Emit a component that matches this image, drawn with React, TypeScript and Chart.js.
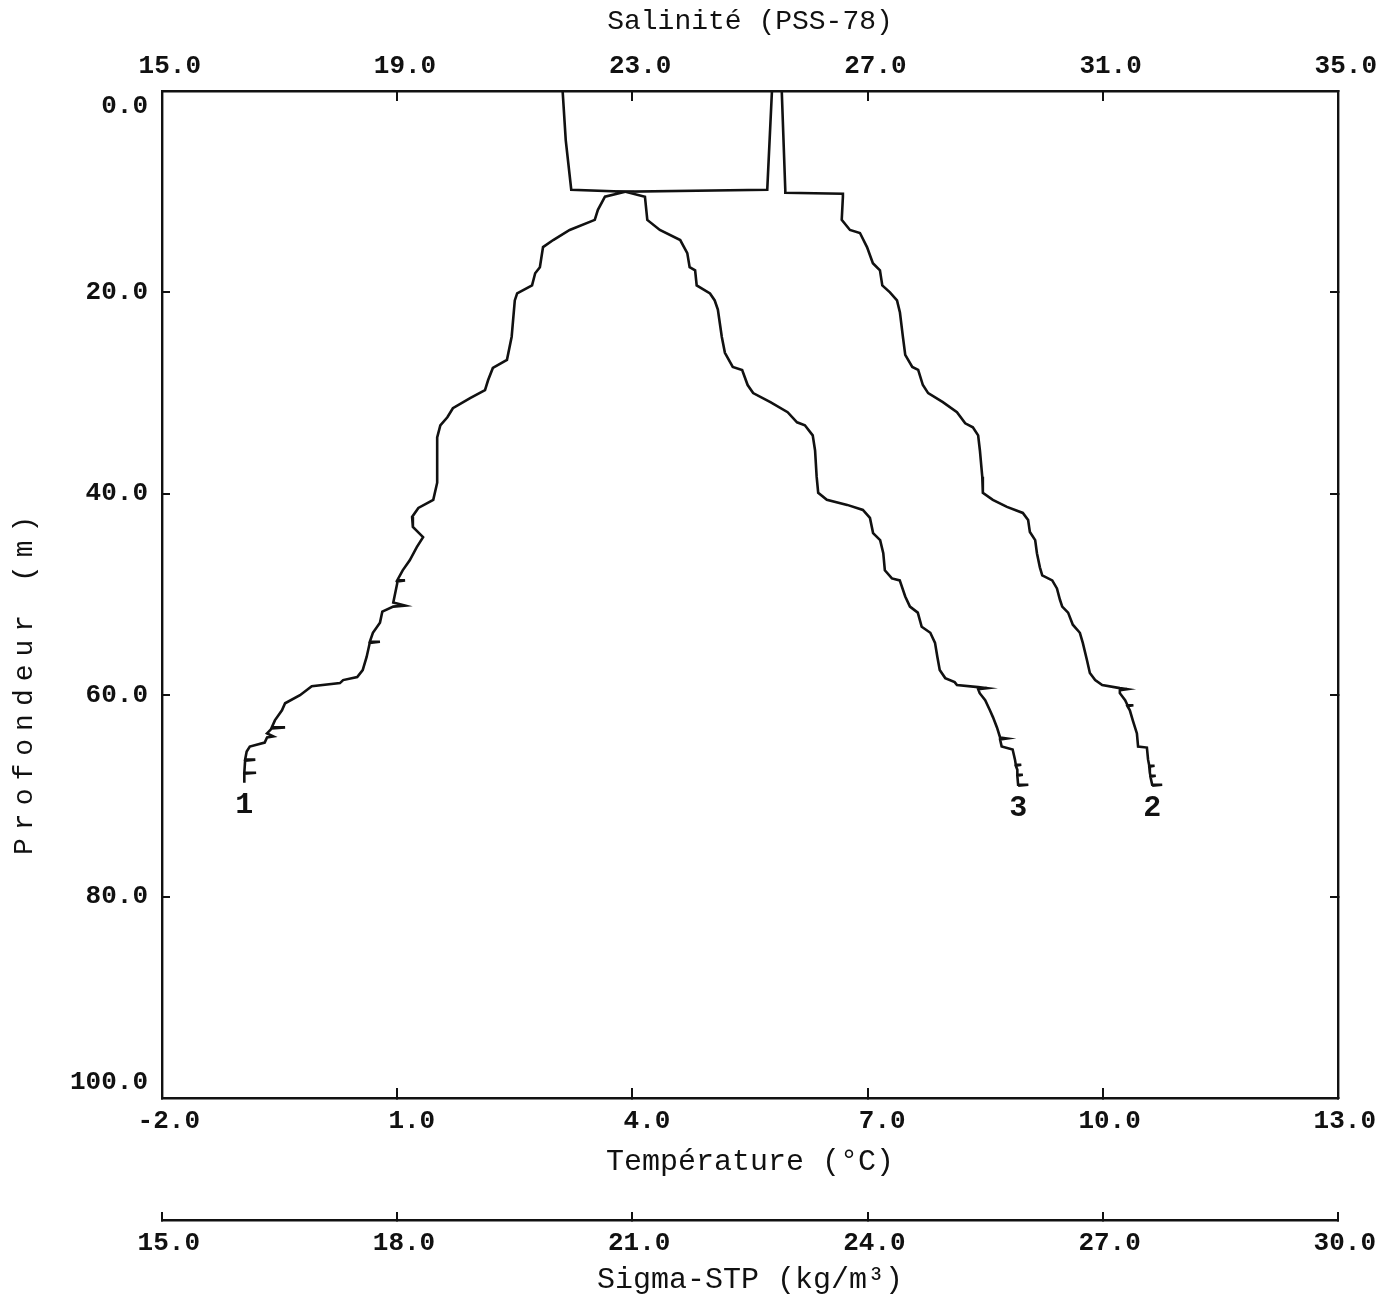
import React, { useEffect, useRef } from 'react';
import { Chart, registerables } from 'chart.js';

Chart.register(...registerables);

// ---- axis tick values ----
const depthTicks = [0, 20, 40, 60, 80, 100];
const tempTicks = [-2, 1, 4, 7, 10, 13];
const salTicks = [15, 19, 23, 27, 31, 35];
const sigmaTicks = [15, 18, 21, 24, 27, 30];

// ---- curve 1 : Température (°C) ----
const tempDepth = [0, 4.9, 9.8, 10.0, 10.5, 11.8, 12.8, 13.8, 14.8, 15.5, 17.5, 18.1, 19.3, 20.1, 20.8, 24.4, 26.7, 27.5, 28.7, 29.7, 30.5, 31.5, 32.4, 33.2, 34.4, 38.9, 40.6, 41.4, 42.3, 43.3, 44.3, 45.3, 46.6, 47.6, 48.6, 48.6, 48.7, 48.9, 50.8, 51.1, 51.2, 51.7, 52.8, 53.8, 54.7, 54.7, 54.8, 56.2, 57.5, 58.2, 58.5, 58.8, 59.1, 60.0, 60.8, 61.5, 62.5, 63.2, 63.2, 63.3, 63.8, 64.1, 64.2, 64.7, 65.1, 65.6, 66.4, 66.4, 66.5, 67.7, 67.7, 67.8, 68.7];
const tempValue = [3.11, 3.15, 3.22, 3.91, 3.65, 3.56, 3.52, 3.20, 2.99, 2.86, 2.82, 2.76, 2.72, 2.53, 2.50, 2.46, 2.40, 2.22, 2.16, 2.12, 1.93, 1.71, 1.64, 1.55, 1.51, 1.51, 1.46, 1.27, 1.19, 1.20, 1.33, 1.25, 1.16, 1.07, 1.00, 1.10, 1.00, 1.00, 0.95, 1.10, 0.95, 0.81, 0.78, 0.69, 0.65, 0.78, 0.65, 0.61, 0.56, 0.49, 0.31, 0.27, -0.09, -0.24, -0.43, -0.47, -0.56, -0.60, -0.43, -0.60, -0.66, -0.58, -0.66, -0.69, -0.88, -0.92, -0.94, -0.81, -0.94, -0.95, -0.80, -0.95, -0.95];

// ---- curve 2 : Salinité (PSS-78) ----
const salDepth = [0, 9.8, 10.1, 10.2, 10.5, 12.8, 13.8, 14.1, 15.5, 17.1, 17.8, 19.3, 20.0, 20.8, 22.0, 24.4, 26.2, 27.4, 27.7, 29.2, 30.0, 30.9, 31.9, 33.0, 33.4, 34.2, 35.7, 38.3, 39.9, 40.6, 41.3, 41.9, 42.6, 43.8, 44.6, 45.9, 47.3, 48.1, 48.6, 49.4, 50.5, 51.2, 51.8, 53.0, 53.8, 54.8, 56.5, 57.8, 58.5, 59.0, 59.3, 59.4, 59.5, 59.8, 60.5, 61.0, 61.0, 61.1, 61.5, 62.5, 63.8, 65.1, 65.2, 66.4, 67.0, 67.0, 67.1, 67.7, 68.0, 68.0, 68.1, 68.9, 68.9, 69.0];
const salValue = [25.54, 25.60, 25.60, 26.58, 26.58, 26.56, 26.70, 26.87, 26.99, 27.09, 27.21, 27.25, 27.38, 27.50, 27.55, 27.60, 27.64, 27.76, 27.86, 27.94, 28.03, 28.28, 28.52, 28.66, 28.79, 28.88, 28.91, 28.95, 28.96, 29.13, 29.37, 29.64, 29.73, 29.76, 29.85, 29.88, 29.93, 29.97, 30.14, 30.22, 30.27, 30.31, 30.41, 30.49, 30.61, 30.66, 30.73, 30.78, 30.87, 30.99, 31.29, 31.41, 31.29, 31.29, 31.38, 31.42, 31.52, 31.42, 31.46, 31.51, 31.58, 31.60, 31.75, 31.77, 31.79, 31.88, 31.79, 31.80, 31.81, 31.90, 31.81, 31.84, 32.01, 31.84];

// ---- curve 3 : Sigma-STP (kg/m³) ----
const sigmaDepth = [0, 9.8, 10.0, 10.5, 12.8, 13.8, 14.8, 16.1, 17.5, 17.8, 19.3, 20.1, 20.8, 21.7, 24.4, 26.0, 27.4, 27.7, 29.2, 30.0, 30.9, 31.9, 32.9, 33.2, 34.2, 35.7, 38.3, 39.9, 40.6, 41.1, 41.6, 42.4, 43.9, 44.6, 45.9, 47.6, 48.4, 48.6, 50.2, 51.2, 51.8, 53.2, 53.8, 54.8, 56.2, 57.5, 58.3, 58.7, 59.0, 59.2, 59.3, 59.4, 59.8, 60.5, 61.5, 62.2, 63.2, 64.2, 64.3, 64.4, 65.1, 65.4, 66.4, 66.9, 66.9, 67.0, 67.4, 67.9, 67.9, 68.0, 68.9, 68.9, 69.0];
const sigmaValue = [22.78, 22.72, 20.91, 21.16, 21.19, 21.35, 21.61, 21.70, 21.73, 21.80, 21.82, 21.99, 22.05, 22.09, 22.14, 22.18, 22.28, 22.40, 22.47, 22.54, 22.76, 22.98, 23.10, 23.20, 23.30, 23.33, 23.35, 23.37, 23.48, 23.74, 23.94, 24.03, 24.07, 24.16, 24.20, 24.22, 24.31, 24.41, 24.48, 24.54, 24.64, 24.69, 24.80, 24.86, 24.89, 24.92, 24.99, 25.11, 25.14, 25.41, 25.52, 25.41, 25.43, 25.50, 25.56, 25.60, 25.65, 25.69, 25.78, 25.69, 25.71, 25.85, 25.88, 25.89, 25.96, 25.89, 25.91, 25.91, 25.98, 25.91, 25.92, 26.05, 25.92];

// curve identifiers written under the end of each profile
const curveTags = ['1', '2', '3'];

const FONT = "'Liberation Mono', 'DejaVu Sans Mono', monospace";
const INK = '#111';
const tickFont = { family: FONT, size: 26, weight: 'bold' };
const titleFont = { family: FONT, size: 30 };
const topTitleFont = { family: FONT, size: 28 };

const setTicks = (values: number[]) => (scale: any) => {
  scale.ticks = values.map((v) => ({ value: v }));
};
const fmt = (v: any) => Number(v).toFixed(1);

// curve numbers under each profile's last point
const curveTagPlugin = {
  id: 'curveTags',
  afterDatasetsDraw(chart: any) {
    const ctx = chart.ctx;
    ctx.save();
    ctx.font = `bold 30px ${FONT}`;
    ctx.fillStyle = INK;
    ctx.textAlign = 'center';
    ctx.textBaseline = 'middle';
    chart.data.datasets.forEach((_ds: any, i: number) => {
      const meta = chart.getDatasetMeta(i);
      const last = meta.data[meta.data.length - 1];
      if (last) ctx.fillText(curveTags[i], last.x, last.y + 23);
    });
    ctx.restore();
  },
};

// the depth title is letter-spaced in the original plot
const spacedTitlePlugin = {
  id: 'spacedTitle',
  afterLayout(chart: any) {
    const s = chart.scales.y;
    if (!s || s.__spaced) return;
    const orig = s.drawTitle;
    s.drawTitle = function () {
      const c = chart.ctx as any;
      c.save();
      c.letterSpacing = '8px';
      orig.call(s);
      c.restore();
    };
    s.__spaced = true;
  },
};

export default function App() {
  const ref = useRef<HTMLCanvasElement>(null);

  useEffect(() => {
    const toPts = (d: number[], v: number[]) => d.map((y, i) => ({ x: v[i], y }));
    const line = {
      borderColor: INK,
      borderWidth: 2.6,
      pointRadius: 0,
      pointHoverRadius: 0,
      showLine: true,
      tension: 0,
      fill: false,
    };
    const grid = (len: number) => ({
      display: true,
      drawOnChartArea: false,
      drawTicks: true,
      tickLength: len,
      color: INK,
      lineWidth: 2,
    });
    const border = { display: true, color: INK, width: 2.4 };

    const chart = new Chart(ref.current as HTMLCanvasElement, {
      type: 'scatter',
      data: {
        datasets: [
          { label: 'Température', data: toPts(tempDepth, tempValue), xAxisID: 'x', yAxisID: 'y', ...line },
          { label: 'Salinité', data: toPts(salDepth, salValue), xAxisID: 'xTop', yAxisID: 'y', ...line },
          { label: 'Sigma-STP', data: toPts(sigmaDepth, sigmaValue), xAxisID: 'xSigma', yAxisID: 'y', ...line },
        ],
      } as any,
      options: {
        responsive: false,
        animation: false,
        devicePixelRatio: 1,
        layout: { padding: 0 },
        plugins: { legend: { display: false }, tooltip: { enabled: false } },
        scales: {
          y: {
            type: 'linear',
            position: 'left',
            reverse: true,
            min: 0,
            max: 100,
            afterBuildTicks: setTicks(depthTicks),
            afterFit: (s: any) => { s.width = 162; },
            grid: grid(-8),
            border,
            ticks: {
              font: tickFont,
              color: INK,
              padding: 22,
              callback: (v: any) => {
                const n = Number(v);
                if (n === depthTicks[0]) return ['', fmt(n)];
                if (n === depthTicks[depthTicks.length - 1]) return [fmt(n), ''];
                return fmt(n);
              },
            },
            title: {
              display: true,
              text: 'Profondeur (m)' + ' '.repeat(7),
              font: topTitleFont,
              color: INK,
              padding: { top: 8, bottom: 0 },
            },
          },
          y2: {
            type: 'linear',
            position: 'right',
            reverse: true,
            min: 0,
            max: 100,
            afterBuildTicks: setTicks(depthTicks),
            afterFit: (s: any) => { s.width = 52; },
            grid: grid(-8),
            border,
            ticks: { display: false },
          },
          xTop: {
            type: 'linear',
            position: 'top',
            min: 15,
            max: 35,
            afterBuildTicks: setTicks(salTicks),
            afterFit: (s: any) => { s.height = 91; },
            grid: grid(-10),
            border,
            ticks: { font: tickFont, color: INK, padding: 19, align: 'end', labelOffset: 39, maxRotation: 0, callback: fmt },
            title: {
              display: true,
              text: 'Salinité (PSS-78)',
              font: topTitleFont,
              color: INK,
              padding: { top: 5, bottom: 0 },
            },
          },
          x: {
            type: 'linear',
            position: 'bottom',
            weight: 0,
            min: -2,
            max: 13,
            afterBuildTicks: setTicks(tempTicks),
            afterFit: (s: any) => { s.height = 122; },
            grid: grid(-10),
            border,
            ticks: { font: tickFont, color: INK, padding: 18, align: 'end', labelOffset: 38, maxRotation: 0, callback: fmt },
            title: {
              display: true,
              text: 'Température (°C)',
              font: titleFont,
              color: INK,
              padding: { top: 0, bottom: 40 },
            },
          },
          xSigma: {
            type: 'linear',
            position: 'bottom',
            weight: 1,
            min: 15,
            max: 30,
            afterBuildTicks: setTicks(sigmaTicks),
            afterFit: (s: any) => { s.height = 81; },
            grid: grid(-8),
            border,
            ticks: { font: tickFont, color: INK, padding: 16, align: 'end', labelOffset: 38, maxRotation: 0, callback: fmt },
            title: {
              display: true,
              text: 'Sigma-STP (kg/m³)',
              font: titleFont,
              color: INK,
              padding: { top: 0, bottom: 3 },
            },
          },
        },
      } as any,
      plugins: [curveTagPlugin, spacedTitlePlugin],
    });
    return () => chart.destroy();
  }, []);

  return (
    <div style={{ position: 'absolute', left: 0, top: 0, width: 1390, height: 1301, background: '#fff' }}>
      <canvas ref={ref} width={1390} height={1301} style={{ display: 'block', width: 1390, height: 1301 }} />
    </div>
  );
}
